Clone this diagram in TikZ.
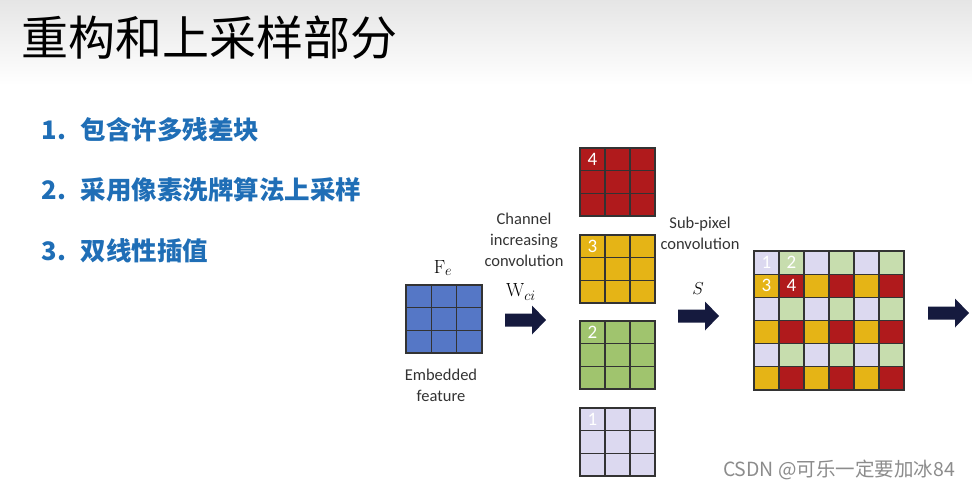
\documentclass[tikz,border=0pt]{standalone}
\usepackage{fontspec}
\setsansfont{Carlito}
\newfontfamily\cjkfont{Noto Sans CJK SC}
\usetikzlibrary{positioning}

\definecolor{featblue}{HTML}{5577C6}
\definecolor{chred}{HTML}{B01A1C}
\definecolor{chyellow}{HTML}{E5B416}
\definecolor{chgreen}{HTML}{A0C46E}
\definecolor{chpurple}{HTML}{DCD9F0}
\definecolor{lightgreen}{HTML}{C7DDAE}
\definecolor{arrownavy}{HTML}{151A3E}
\definecolor{listblue}{HTML}{1F6EB6}

\tikzset{
  gridline/.style={draw=black!80, line width=1.2pt},
  caption/.style={font=\sffamily\fontsize{16.5}{21}\selectfont, align=center, text=black!80},
  numlabel/.style={text=white, font=\sffamily\fontsize{19}{19}\selectfont, inner sep=0pt},
  listitem/.style={anchor=west, text=listblue, font=\cjkfont\bfseries\fontsize{25.5}{25.5}\selectfont},
  symlabel/.style={font=\fontsize{19}{19}\selectfont},
  fatarrow/.pic={\fill[arrownavy] (0,-6.5) -- (27,-6.5) -- (27,-14.5) -- (41,0)
      -- (27,14.5) -- (27,6.5) -- (0,6.5) -- cycle;}
}

\begin{document}
\begin{tikzpicture}[x=1pt, y=-1pt]
  \useasboundingbox (0,0) rectangle (972,491);
  % title bar
  \shade[top color=black!10, bottom color=white] (0,0) rectangle (972,85);
  \node[anchor=west, font=\cjkfont\fontsize{47}{47}\selectfont] (title) at (18,38) {重构和上采样部分};

  % list
  \node[listitem] (n1) at (38,130) {1.};
  \node[listitem] (item1) at (77,130) {包含许多残差块};
  \node[listitem] (n2) at (38,190) {2.};
  \node[listitem] (item2) at (77,190) {采用像素洗牌算法上采样};
  \node[listitem] (n3) at (38,251) {3.};
  \node[listitem] (item3) at (77,251) {双线性插值};

  % embedded feature map
  \fill[featblue] (406,285) rectangle (482,353);
  \foreach \i in {1,2} {
    \draw[gridline] (406+25.33*\i,285) -- (406+25.33*\i,353);
    \draw[gridline] (406,285+22.67*\i) -- (482,285+22.67*\i);
  }
  \draw[gridline] (406,285) rectangle (482,353);
  \node[symlabel] (fe) at (443,268) {$\mathrm{F}_e$};
  \node[caption] (embed) at (441,385) {Embedded\\feature};

  % channel increasing convolution
  \node[caption] (chconv) at (524,240) {Channel\\increasing\\convolution};
  \node[symlabel] (wci) at (521,292) {$\mathrm{W}_{ci}$};
  \pic at (505,320) {fatarrow};

  % four channels
  \foreach \y/\c/\n in {148/chred/4, 235/chyellow/3, 321/chgreen/2, 408/chpurple/1} {
    \fill[\c] (580,\y) rectangle (655,\y+68);
    \foreach \i in {1,2} {
      \draw[gridline] (580+25*\i,\y) -- (580+25*\i,\y+68);
      \draw[gridline] (580,\y+22.67*\i) -- (655,\y+22.67*\i);
    }
    \draw[gridline] (580,\y) rectangle (655,\y+68);
    \node[numlabel] (ch\n) at (592.5,\y+11.5) {\n};
  }

  % sub-pixel convolution
  \node[caption] (subpix) at (700,233) {Sub-pixel\\convolution};
  \node[symlabel] (s) at (698,289) {$S$};
  \pic at (678,316) {fatarrow};

  % shuffled output
  \foreach \r in {0,2,4} \foreach \c in {0,2,4} {
    \fill[chpurple] (754+25*\c,251+23.17*\r) rectangle ++(25,23.17);
    \fill[lightgreen] (779+25*\c,251+23.17*\r) rectangle ++(25,23.17);
    \fill[chyellow] (754+25*\c,274.17+23.17*\r) rectangle ++(25,23.17);
    \fill[chred] (779+25*\c,274.17+23.17*\r) rectangle ++(25,23.17);
  }
  \foreach \i in {1,...,5} {
    \draw[gridline] (754+25*\i,251) -- (754+25*\i,390);
    \draw[gridline] (754,251+23.17*\i) -- (904,251+23.17*\i);
  }
  \draw[gridline] (754,251) rectangle (904,390);
  \node[numlabel] (o1) at (766.5,262.6) {1};
  \node[numlabel] (o2) at (791.5,262.6) {2};
  \node[numlabel] (o3) at (766.5,285.8) {3};
  \node[numlabel] (o4) at (791.5,285.8) {4};
  \pic at (928,313) {fatarrow};

  % watermark
  \node[text=black!45, font=\cjkfont\fontsize{19.5}{19.5}\selectfont] (mark) at (839,470) {CSDN @可乐一定要加冰84};
\end{tikzpicture}
\end{document}
